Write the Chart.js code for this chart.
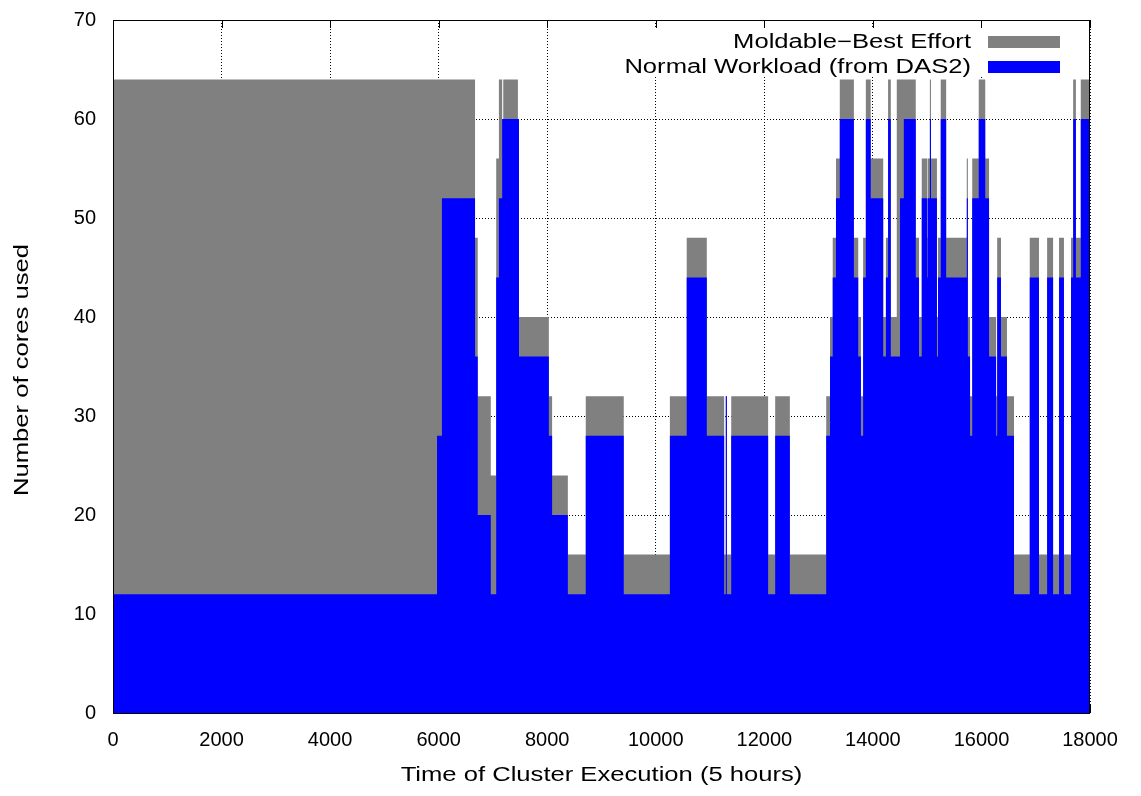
<!DOCTYPE html>
<html>
<head>
<meta charset="utf-8">
<script src="https://cdn.jsdelivr.net/npm/chart.js@4"></script>
<style>
  html, body { margin: 0; padding: 0; background: #fff; }
  #wrap { width: 1141px; height: 796px; position: relative; }
</style>
</head>
<body>
<div id="wrap"><canvas id="coresChart"></canvas></div>
<script>
// inicio de cada tramo (tiempo) y nucleos usados en ese tramo
const startTimes = [0, 5970, 6060, 6670, 6720, 6960, 7060, 7110, 7170, 7190,
  7460, 7480, 8030, 8090, 8380, 8710, 9410, 10260, 10570, 10940,
  11260, 11290, 11310, 11390, 12070, 12200, 12470, 13140, 13210, 13260,
  13320, 13390, 13650, 13730, 13780, 13820, 13870, 13960, 14190, 14240,
  14280, 14330, 14440, 14500, 14570, 14790, 14850, 14900, 15000, 15010,
  15050, 15070, 15180, 15200, 15250, 15350, 15730, 15750, 15790, 15830,
  15950, 16070, 16140, 16270, 16290, 16360, 16470, 16600, 16890, 17060,
  17210, 17320, 17430, 17520, 17650, 17690, 17740, 17830];
const endTime = 18000;

const normalCores = [12, 28, 52, 36, 20, 12, 44, 52, 60, 60,
  60, 36, 28, 20, 12, 28, 12, 28, 44, 28,
  12, 32, 12, 28, 12, 28, 12, 28, 36, 44,
  52, 60, 44, 36, 28, 44, 60, 52, 36, 44,
  60, 36, 36, 52, 60, 44, 36, 52, 44, 52,
  60, 52, 36, 44, 60, 44, 52, 36, 28, 52,
  60, 52, 36, 28, 44, 36, 28, 12, 44, 12,
  44, 12, 44, 12, 44, 60, 44, 60];

const moldableCores = [52, 36, 12, 12, 12, 12, 12, 12, 0, 4,
  0, 4, 4, 4, 4, 4, 4, 4, 4, 4,
  4, 0, 4, 4, 4, 4, 4, 4, 4, 4,
  4, 4, 4, 4, 4, 4, 4, 4, 4, 4,
  4, 4, 28, 12, 4, 4, 4, 4, 4, 4,
  4, 4, 4, 4, 4, 4, 4, 4, 4, 4,
  4, 4, 4, 4, 4, 4, 4, 4, 4, 4,
  4, 4, 4, 4, 4, 4, 4, 4];

const xTickValues = [0, 2000, 4000, 6000, 8000, 10000, 12000, 14000, 16000, 18000];
const yTickValues = [0, 10, 20, 30, 40, 50, 60, 70];

const xTitle = 'Time of Cluster Execution (5 hours)';
const yTitle = 'Number of cores used';

const FONT = '"Liberation Sans", Arial, Helvetica, sans-serif';
const STRETCH = 1.28; // el texto del original es mas ancho

// puntos escalonados (el ultimo valor se mantiene hasta el final)
function stepPoints(values) {
    var pts = startTimes.map(function(t, i) { return { x: t, y: values[i] }; });
    pts.push({ x: endTime, y: values[values.length - 1] });
    return pts;
}
var totalCores = normalCores.map(function(v, i) { return v + moldableCores[i]; });

function wideText(ctx, text, x, y, align, rot) {
    ctx.save();
    ctx.translate(x, y);
    if (rot) ctx.rotate(rot);
    ctx.scale(STRETCH, 1);
    ctx.textAlign = align;
    ctx.textBaseline = 'middle';
    ctx.fillText(text, 0, 0);
    ctx.restore();
}

// leyenda, titulos y borde al estilo gnuplot
var gnuplotPlugin = {
    id: 'gnuplotLook',
    beforeDatasetsDraw: function(chart) {
        var ctx = chart.ctx, a = chart.chartArea;
        ctx.save();
        // marcas de ticks hacia dentro
        ctx.strokeStyle = '#000';
        ctx.lineWidth = 1;
        ctx.beginPath();
        chart.scales.x.ticks.forEach(function(t) {
            var px = Math.round(chart.scales.x.getPixelForValue(t.value)) + 0.5;
            ctx.moveTo(px, a.top); ctx.lineTo(px, a.top + 8);
            ctx.moveTo(px, a.bottom); ctx.lineTo(px, a.bottom - 8);
        });
        chart.scales.y.ticks.forEach(function(t) {
            var py = Math.round(chart.scales.y.getPixelForValue(t.value)) + 0.5;
            ctx.moveTo(a.left, py); ctx.lineTo(a.left + 8, py);
            ctx.moveTo(a.right, py); ctx.lineTo(a.right - 8, py);
        });
        ctx.stroke();
        // fondo de la leyenda tapa la rejilla
        ctx.fillStyle = '#fff';
        ctx.fillRect(615, a.top + 9, 460, 48);
        ctx.restore();
    },
    afterDraw: function(chart) {
        var ctx = chart.ctx, a = chart.chartArea;
        ctx.save();
        ctx.font = '20px ' + FONT;
        ctx.fillStyle = '#000';
        chart.data.datasets.forEach(function(ds, i) {
            var y = 42 + i * 25;
            ctx.fillStyle = '#000';
            wideText(ctx, ds.label, 971, y, 'right', 0);
            ctx.fillStyle = ds.backgroundColor;
            ctx.fillRect(988, y - 6, 72, 12);
        });
        ctx.fillStyle = '#000';
        wideText(ctx, xTitle, (a.left + a.right) / 2, 775, 'center', 0);
        wideText(ctx, yTitle, 22, 370, 'center', -Math.PI / 2);
        // borde
        ctx.strokeStyle = '#000';
        ctx.lineWidth = 1;
        ctx.strokeRect(a.left + 0.5, a.top + 0.5, a.right - a.left - 1, a.bottom - a.top);
        ctx.restore();
    }
};

document.addEventListener('DOMContentLoaded', function() {
    var ctx = document.getElementById('coresChart');
    new Chart(ctx, {
        type: 'line',
        data: {
            datasets: [{
                label: 'Moldable\u2212Best Effort',
                data: stepPoints(totalCores),
                stepped: 'before',
                fill: 'origin',
                backgroundColor: '#808080',
                borderWidth: 0,
                pointRadius: 0,
                order: 2
            }, {
                label: 'Normal Workload (from DAS2)',
                data: stepPoints(normalCores),
                stepped: 'before',
                fill: 'origin',
                backgroundColor: '#0000ff',
                borderWidth: 0,
                pointRadius: 0,
                order: 1
            }]
        },
        options: {
            responsive: true,
            maintainAspectRatio: false,
            animation: false,
            layout: { padding: { top: 20, right: 51, left: 0, bottom: 0 } },
            plugins: {
                legend: { display: false },
                tooltip: { enabled: false }
            },
            scales: {
                x: {
                    type: 'linear',
                    min: 0,
                    max: endTime,
                    afterBuildTicks: function(scale) {
                        scale.ticks = xTickValues.map(function(v) { return { value: v }; });
                    },
                    afterFit: function(scale) {
                        scale.height = 83;
                        scale.paddingLeft = 0;
                        scale.paddingRight = 0;
                    },
                    ticks: {
                        color: '#000',
                        padding: 15,
                        maxRotation: 0,
                        font: { family: FONT, size: 20 },
                        callback: function(v) { return String(v); }
                    },
                    grid: { color: '#000', lineWidth: 1, drawTicks: false },
                    border: { display: false, dash: [1, 2] }
                },
                y: {
                    min: 0,
                    max: 70,
                    afterBuildTicks: function(scale) {
                        scale.ticks = yTickValues.map(function(v) { return { value: v }; });
                    },
                    afterFit: function(scale) {
                        scale.width = 113;
                        scale.paddingTop = 0;
                        scale.paddingBottom = 0;
                    },
                    ticks: {
                        color: '#000',
                        padding: 17,
                        font: { family: FONT, size: 20 }
                    },
                    grid: { color: '#000', lineWidth: 1, drawTicks: false },
                    border: { display: false, dash: [1, 2] }
                }
            }
        },
        plugins: [gnuplotPlugin]
    });
});
</script>
</body>
</html>
